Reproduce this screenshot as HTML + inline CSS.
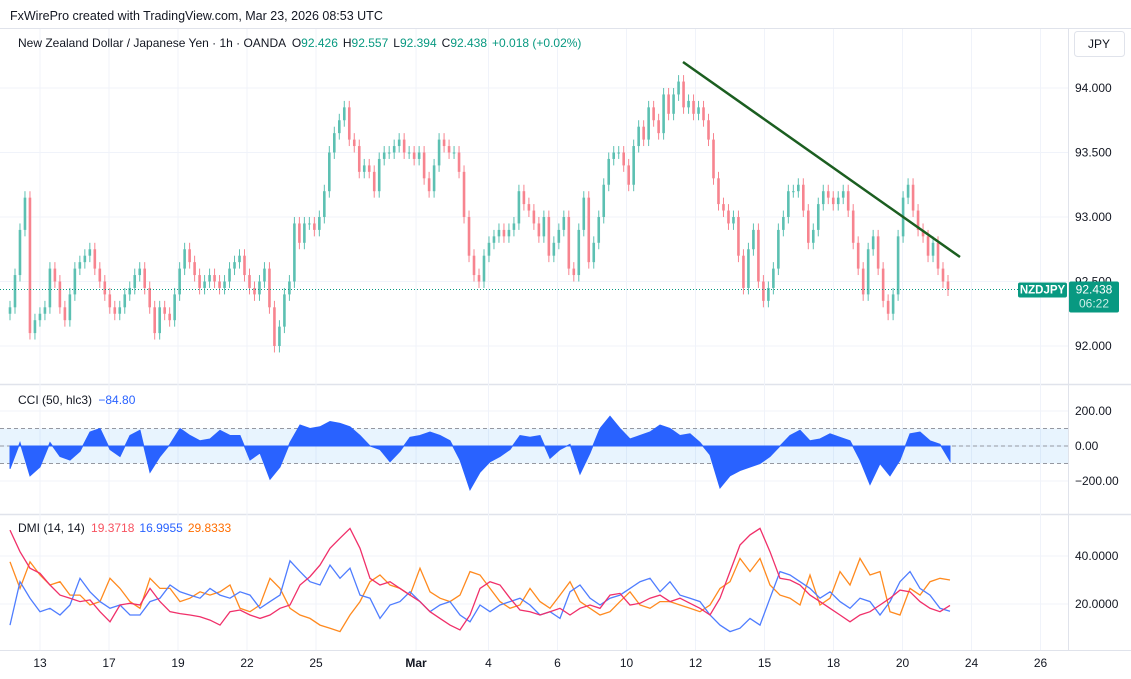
<!DOCTYPE html>
<html><head><meta charset="utf-8"><style>
body{margin:0;background:#fff;font-family:"Liberation Sans",sans-serif;}
#wrap{position:relative;width:1131px;height:679px;overflow:hidden;background:#fff;}
svg text{font-family:"Liberation Sans",sans-serif;}
</style></head><body>
<div id="wrap">
<svg id="c" width="1131" height="679">
<rect x="0" y="0" width="1131" height="679" fill="#fff"/>
<text x="10" y="20" font-size="12.5" fill="#131722">FxWirePro created with TradingView.com, Mar 23, 2026 08:53 UTC</text>
<line x1="0" y1="28.5" x2="1131" y2="28.5" stroke="#e0e3eb"/>
<line x1="1068.5" y1="28" x2="1068.5" y2="650" stroke="#e0e3eb"/>
<line x1="0" y1="384.5" x2="1131" y2="384.5" stroke="#e0e3eb" stroke-width="1.5"/>
<line x1="0" y1="514.5" x2="1131" y2="514.5" stroke="#e0e3eb" stroke-width="1.5"/>
<line x1="0" y1="650.5" x2="1131" y2="650.5" stroke="#e0e3eb"/>
<g id="grid"></g>
<g id="main"></g>
<g id="cci"></g>
<g id="dmi"></g>
<g id="axes"></g>
<line x1="683" y1="62" x2="960" y2="257" stroke="#1b5e20" stroke-width="2.5"/>
<text x="18" y="47" font-size="12" fill="#131722">New Zealand Dollar / Japanese Yen · 1h · OANDA <tspan dx="3">O</tspan><tspan fill="#089981">92.426</tspan><tspan dx="5">H</tspan><tspan fill="#089981">92.557</tspan><tspan dx="5">L</tspan><tspan fill="#089981">92.394</tspan><tspan dx="5">C</tspan><tspan fill="#089981">92.438</tspan><tspan dx="5" fill="#089981">+0.018 (+0.02%)</tspan></text>
<rect x="1074.5" y="31.5" width="50" height="25" rx="3" fill="#fff" stroke="#e0e3eb"/>
<text x="1099" y="48" font-size="12" fill="#131722" text-anchor="middle">JPY</text>
<text x="18" y="404" font-size="12" fill="#131722">CCI (50, hlc3) <tspan dx="3" fill="#2962ff">−84.80</tspan></text>
<text x="18" y="532" font-size="12" fill="#131722">DMI (14, 14) <tspan dx="3" fill="#f7525f">19.3718</tspan><tspan dx="5" fill="#2962ff">16.9955</tspan><tspan dx="5" fill="#ff6d00">29.8333</tspan></text>
</svg>
</div>
<script>
const closes=[92.30,92.55,92.90,93.15,92.10,92.20,92.25,92.30,92.60,92.50,92.30,92.20,92.40,92.60,92.65,92.70,92.75,92.60,92.50,92.40,92.30,92.25,92.30,92.40,92.45,92.55,92.60,92.45,92.30,92.10,92.30,92.25,92.20,92.40,92.60,92.75,92.65,92.55,92.45,92.50,92.55,92.50,92.45,92.50,92.60,92.65,92.70,92.55,92.45,92.40,92.50,92.60,92.30,92.00,92.15,92.40,92.50,92.95,92.80,92.95,92.95,92.90,93.00,93.20,93.50,93.65,93.75,93.85,93.60,93.55,93.35,93.40,93.35,93.20,93.45,93.50,93.50,93.55,93.60,93.50,93.50,93.45,93.50,93.30,93.20,93.40,93.60,93.55,93.50,93.50,93.35,93.00,92.70,92.55,92.50,92.70,92.80,92.85,92.90,92.85,92.90,92.95,93.20,93.10,93.05,92.95,92.85,93.00,92.70,92.80,92.90,93.00,92.60,92.55,92.90,93.15,92.65,92.80,93.00,93.25,93.45,93.50,93.50,93.40,93.25,93.55,93.70,93.60,93.85,93.75,93.65,93.95,93.80,93.95,94.05,93.85,93.90,93.80,93.85,93.75,93.60,93.30,93.10,93.05,92.95,93.00,92.70,92.45,92.75,92.90,92.50,92.35,92.45,92.60,92.90,93.00,93.20,93.20,93.25,93.05,92.80,92.90,93.10,93.20,93.15,93.10,93.15,93.20,93.05,92.80,92.60,92.40,92.75,92.85,92.60,92.35,92.25,92.40,92.85,93.15,93.25,93.05,92.90,92.85,92.70,92.80,92.60,92.50,92.438];
const cciValues=[-130,20,-170,-120,20,-60,-80,-30,80,100,-20,-60,60,90,-150,-60,10,100,60,30,40,90,60,60,-80,-40,-190,-120,20,120,100,110,140,130,110,60,0,-20,-90,-30,50,60,80,60,30,-80,-250,-150,-90,-60,-20,60,50,60,-70,-20,10,-160,-40,100,170,100,40,60,80,120,100,60,70,20,-50,-240,-170,-140,-120,-100,-60,0,60,90,30,40,70,50,30,-80,-220,-100,-170,-80,70,80,30,10,-85];
const diPlus=[50.8,41.8,34.9,32.8,27.9,23.7,22.4,21,21.7,16.8,12.6,19.6,20.3,19.6,26.5,21,16.8,16,15.4,14.7,13.3,11.2,16.8,17.5,15.4,14,15.4,18.2,19.6,27.9,31.4,36.2,43.2,47.4,51.5,43.2,30.7,27.9,29.3,26.5,23.7,21,16.8,14,11.2,9.2,15.4,26.5,29.3,27.9,22.4,17.5,16.8,15.4,16.8,18.2,15.4,18.2,19.6,18.2,23.7,24.4,19.6,20.3,22.4,23.7,21,22.4,20.3,18.2,15.4,22.4,33.5,44.6,48.8,51.5,41.8,30.7,30,27.9,23.7,21,18.2,15.4,12.6,15.4,16.8,19.6,22.4,25.8,25.1,21,18.2,16.8,19.4];
const diMinus=[11.2,29.3,22.4,16.8,18.2,15.4,19.6,30.7,25.1,21,18.2,19.6,15.4,15.4,21,22.4,27.9,25.1,23.7,22.4,26.5,23.7,22.4,25.1,23.7,18.2,21,23.7,38,33.5,29.3,27.9,36.2,30.7,34.9,23.7,22.4,14,19.6,21,25.1,21,16.8,19.6,21,15.4,12.6,19.6,16.8,19.6,21,22.4,19.6,15.4,16.8,14,25.1,27.9,22.4,19.6,22.4,23.7,26.5,29.3,30.7,25.1,29.3,23.7,22.4,21,15.4,11.2,8.5,9.9,14,11.2,22.4,33.5,32.1,29.3,26.5,22.4,25.1,21,18.2,22.4,21,15.4,21,29.3,33.5,26.5,23.7,18.2,17];
const adx=[37.6,26.5,37.6,32.1,27.9,29.3,23.7,23.7,19.6,21,30.7,26.5,21,18.2,30.7,26.5,26.5,21,22.4,25.1,23.7,25.1,27.9,18.2,16.8,19.6,30.7,26.5,18.2,15.4,14,11.2,9.9,8.5,15.4,21,29.3,32.1,27.9,26.5,23.7,34.9,25.1,22.4,21,23.7,33.5,32.1,26.5,21,18.2,19.6,26.5,21,18.2,23.7,29.3,21,18.2,15.4,16.8,21,25.1,19.6,18.2,21,21,19.6,18.2,16.8,19.6,26.5,29.3,39,33.5,39,27.9,23.7,22.4,19.6,32.1,19.6,22.4,33.5,27.9,39,32.1,33.5,16.8,15.4,26.5,23.7,29.3,30.7,30];
const priceTicks=[94,93.5,93,92.5,92];
const priceTickLabels=["94.000","93.500","93.000","92.500","92.000"];
const cciTicks=[200,0,-200];
const cciTickLabels=["200.00","0.00","−200.00"];
const dmiTicks=[40,20];
const dmiTickLabels=["40.0000","20.0000"];
const timeLabels=["13","17","19","22","25","Mar","4","6","10","12","15","18","20","24","26"];
const timeDays=[0,2,4,6,8,10.9,13,15,17,19,21,23,25,27,29];
const lastPrice=92.438;

const NS="http://www.w3.org/2000/svg";
function mk(tag,attrs,parent){const e=document.createElementNS(NS,tag);for(const k in attrs)e.setAttribute(k,attrs[k]);parent.appendChild(e);return e;}
const xStart=10,xEnd=948;
const xCandle=i=>xStart+i*(xEnd-xStart)/(closes.length-1);
const xInd=(i,n)=>10+i*(950-10)/(n-1);
const xDay=d=>40+d*34.5;
const yP=p=>88+(94-p)*129;
const yC=v=>446-v*0.175;
const yD=v=>604-(v-20)*2.4;

const grid=document.getElementById('grid'),main=document.getElementById('main'),cci=document.getElementById('cci'),dmi=document.getElementById('dmi'),axes=document.getElementById('axes');
timeDays.forEach((d,i)=>{const x=xDay(d);
 const g=mk('line',{x1:x,y1:29,x2:x,y2:650,stroke:'#f0f3fa'},grid);
 
 
 const t=mk('text',{x:x,y:667,'font-size':12,'text-anchor':'middle',fill:'#131722','font-weight':timeLabels[i]==='Mar'?'bold':'normal'},axes);
 t.textContent=timeLabels[i];
 
 
});
priceTicks.forEach((p,i)=>{const y=yP(p);
 const g=mk('line',{x1:0,y1:y,x2:1068,y2:y,stroke:'#f0f3fa'},grid);
 
 
 const t=mk('text',{x:1075,y:y+4,'font-size':12,fill:'#131722'},axes);
 t.textContent=priceTickLabels[i];
 
 
});
cciTicks.forEach((v,i)=>{const y=yC(v);
 const g=mk('line',{x1:0,y1:y,x2:1068,y2:y,stroke:'#f0f3fa'},grid);
 
 
 const t=mk('text',{x:1075,y:y+4,'font-size':12,fill:'#131722'},axes);
 t.textContent=cciTickLabels[i];
 
 
});
dmiTicks.forEach((v,i)=>{const y=yD(v);
 const g=mk('line',{x1:0,y1:y,x2:1068,y2:y,stroke:'#f0f3fa'},grid);
 
 
 const t=mk('text',{x:1075,y:y+4,'font-size':12,fill:'#131722'},axes);
 t.textContent=dmiTickLabels[i];
 
 
});
closes.forEach((c,i)=>{
 const o=i===0?c-0.05:closes[i-1];const up=c>=o;
 const hi=Math.max(o,c)+0.05,lo=Math.min(o,c)-0.05;
 const x=xCandle(i);const col=up?'#5cc0b2':'#f7848f';
 const w=mk('line',{x1:x,y1:yP(hi),x2:x,y2:yP(lo),stroke:col,'stroke-width':1},main);
 
 
 const b=mk('rect',{x:x-1.3,y:Math.min(yP(o),yP(c)),width:2.6,height:Math.max(1,Math.abs(yP(o)-yP(c))),fill:col},main);
 
 
});
const ly=yP(lastPrice);
const pl=mk('line',{x1:0,y1:ly,x2:1068,y2:ly,stroke:'#089981','stroke-dasharray':'1,2'},main);


const sb=mk('rect',{x:1018,y:ly-7,width:49,height:15,rx:2,fill:'#089981'},axes);


const st=mk('text',{x:1042.5,y:ly+4,'font-size':11.5,'font-weight':'bold',fill:'#fff','text-anchor':'middle'},axes);
st.textContent='NZDJPY';


const pb=mk('rect',{x:1069,y:ly-8,width:50,height:31,rx:2,fill:'#089981'},axes);


const pt=mk('text',{x:1094,y:ly+4,'font-size':12,fill:'#fff','text-anchor':'middle'},axes);
pt.textContent=lastPrice.toFixed(3);


const ct=mk('text',{x:1094,y:ly+18,'font-size':12,fill:'#cdeee8','text-anchor':'middle'},axes);
ct.textContent='06:22';


const band=mk('rect',{x:0,y:yC(100),width:1068,height:yC(-100)-yC(100),fill:'rgba(33,150,243,0.1)'},cci);


[100,0,-100].forEach(v=>{const l=mk('line',{x1:0,y1:yC(v),x2:1068,y2:yC(v),stroke:'#9598a1','stroke-dasharray':'4,3'},cci);
 
 });
let d='M'+xInd(0,cciValues.length)+','+yC(0);
cciValues.forEach((v,i)=>{d+=' L'+xInd(i,cciValues.length).toFixed(1)+','+yC(v).toFixed(1);});
d+=' L'+xInd(cciValues.length-1,cciValues.length)+','+yC(0)+' Z';
const ca=mk('path',{d:d,fill:'#2962ff',stroke:'#2962ff','stroke-width':1},cci);


function line(arr,col,name){let p='';arr.forEach((v,i)=>{p+=(i?' L':'M')+xInd(i,arr.length).toFixed(1)+','+yD(v).toFixed(1);});
 const e=mk('path',{d:p,fill:'none',stroke:col,'stroke-width':1.3},dmi);
 
 }
line(adx,'#ff8a1f','adx-line');
line(diMinus,'#4f7dff','di-minus-line');
line(diPlus,'#f0306a','di-plus-line');
</script>
</body></html>
